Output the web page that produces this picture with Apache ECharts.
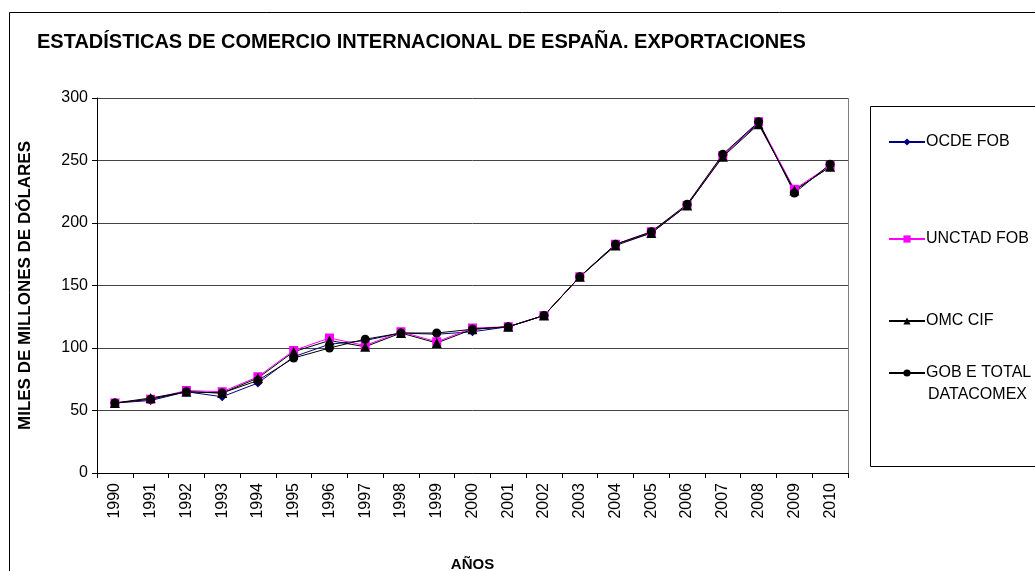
<!DOCTYPE html>
<html>
<head>
<meta charset="utf-8">
<script src="https://cdn.jsdelivr.net/npm/echarts@6/dist/echarts.min.js"></script>
<style>
html, body { margin: 0; padding: 0; background: #fff; }
#main { width: 1035px; height: 571px; }
</style>
</head>
<body>
<div id="main"></div>
<script>
// años
var years = ['1990', '1991', '1992', '1993', '1994', '1995', '1996', '1997', '1998', '1999', '2000',
    '2001', '2002', '2003', '2004', '2005', '2006', '2007', '2008', '2009', '2010'];
// miles de millones de dólares
var ocdeFob = [56, 58, 65, 61, 72, 93, 103, 106, 112, 111, 113, 117, 126, 157, 183, 192, 214, 254, 280, 226, 245];
var unctadFob = [56, 59, 66, 65, 77, 98, 108, 102, 113, 105, 116, 117, 126, 157, 183, 193, 214, 254, 281, 227, 246];
var omcCif = [56, 60, 65, 64, 76, 97, 106, 101, 112, 104, 115, 117, 126, 157, 182, 192, 214, 253, 279, 226, 245];
var gobDatacomex = [56, 59, 65, 64, 74, 92, 100, 107, 112, 112, 115, 117, 126, 157, 183, 193, 215, 255, 281, 224, 247];
var yTicks = [0, 50, 100, 150, 200, 250, 300];

var font = '"Liberation Sans", Arial, sans-serif';
var myChart = echarts.init(document.getElementById('main'));

function legendAt(name, top) {
    return {
        data: [name],
        left: 888,
        top: top,
        orient: 'vertical',
        itemWidth: 36,
        itemHeight: 9,
        itemGap: 0,
        padding: 0,
        formatter: function (n) {
            return n == 'GOB E TOTAL DATACOMEX' ? 'GOB E TOTAL' : n;
        },
        textStyle: { fontFamily: font, fontSize: 16, color: '#000', padding: [0, 0, 0, -4] }
    };
}

function lineSeries(name, data, color, lineColor, symbol, size) {
    return {
        name: name,
        type: 'line',
        data: data,
        symbol: symbol,
        symbolSize: size,
        showSymbol: true,
        animation: false,
        itemStyle: { color: color },
        lineStyle: { color: lineColor, width: 1 }
    };
}

var option = {
    backgroundColor: '#fff',
    animation: false,
    title: {
        text: 'ESTADÍSTICAS DE COMERCIO INTERNACIONAL DE ESPAÑA. EXPORTACIONES',
        left: 37,
        top: 32,
        padding: 0,
        textStyle: { fontFamily: font, fontSize: 20, fontWeight: 'bold', color: '#000' }
    },
    graphic: [
        {
            type: 'rect',
            shape: { x: 9.5, y: 12.5, width: 1100, height: 600 },
            style: { fill: 'none', stroke: '#000', lineWidth: 1 },
            silent: true
        },
        {
            type: 'rect',
            shape: { x: 870.5, y: 106.5, width: 200, height: 360 },
            style: { fill: '#fff', stroke: '#000', lineWidth: 1 },
            silent: true
        },
        {
            type: 'line',
            shape: { x1: 848.5, y1: 98, x2: 848.5, y2: 473 },
            style: { stroke: '#808080', lineWidth: 1 },
            silent: true
        },
        {
            type: 'text',
            left: 928,
            top: 387,
            z: 10,
            style: { text: 'DATACOMEX', fill: '#000', font: '16px ' + font }
        }
    ],
    legend: [
        legendAt('OCDE FOB', 134),
        legendAt('UNCTAD FOB', 231),
        legendAt('OMC CIF', 313),
        legendAt('GOB E TOTAL DATACOMEX', 365)
    ],
    grid: { left: 97, right: 187, top: 98, bottom: 98, containLabel: false, outerBoundsMode: 'none' },
    xAxis: {
        type: 'category',
        data: years,
        name: 'AÑOS',
        nameLocation: 'middle',
        nameGap: 84,
        nameTextStyle: { fontFamily: font, fontSize: 15, fontWeight: 'bold', color: '#000' },
        axisLine: { lineStyle: { color: '#000', width: 1 } },
        axisTick: { show: true, length: 5, lineStyle: { color: '#000' } },
        axisLabel: { rotate: 90, margin: 10, fontFamily: font, fontSize: 16, color: '#000' }
    },
    yAxis: {
        type: 'value',
        min: yTicks[0],
        max: yTicks[yTicks.length - 1],
        interval: 50,
        name: 'MILES DE MILLONES DE DÓLARES',
        nameLocation: 'middle',
        nameGap: 63,
        nameRotate: 90,
        nameTextStyle: { fontFamily: font, fontSize: 17, fontWeight: 'bold', color: '#000' },
        axisLine: { show: true, lineStyle: { color: '#000', width: 1 } },
        axisTick: { show: true, length: 5, lineStyle: { color: '#000' } },
        axisLabel: { margin: 9, fontFamily: font, fontSize: 16, color: '#000' },
        splitLine: { show: true, lineStyle: { color: '#444', width: 1 } }
    },
    series: [
        lineSeries('OCDE FOB', ocdeFob, '#000080', '#000080', 'diamond', 9),
        lineSeries('UNCTAD FOB', unctadFob, '#ff00ff', '#ff00ff', 'rect', 9),
        lineSeries('OMC CIF', omcCif, '#000', '#000', 'triangle', 10),
        lineSeries('GOB E TOTAL DATACOMEX', gobDatacomex, '#000', '#000', 'circle', 9)
    ]
};
myChart.setOption(option);
</script>
</body>
</html>
